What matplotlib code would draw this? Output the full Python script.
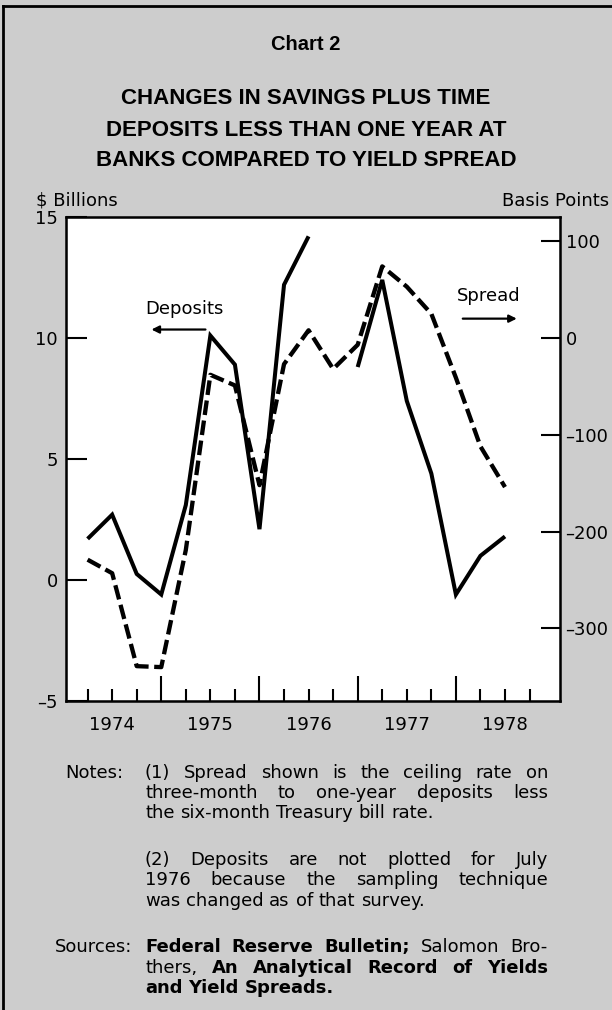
import matplotlib
matplotlib.use("Agg")
import matplotlib.pyplot as plt
from matplotlib.lines import Line2D
import numpy as np

# ---------------- data ----------------
years = ["1974", "1975", "1976", "1977", "1978"]
year_starts = [1975.0, 1976.0, 1977.0, 1978.0]
quarter_ticks = [1974.25, 1974.5, 1974.75, 1975.25, 1975.5, 1975.75,
                 1976.25, 1976.5, 1976.75, 1977.25, 1977.5, 1977.75,
                 1978.25, 1978.5, 1978.75]
dates = [1974.25, 1974.5, 1974.75, 1975.0, 1975.25, 1975.5, 1975.75,
         1976.0, 1976.25, 1976.5, 1976.75, 1977.0, 1977.25, 1977.5,
         1977.75, 1978.0, 1978.25, 1978.5]
# $ billions (July 1976 not plotted)
deposits = [1.7, 2.7, 0.25, -0.6, 3.1, 10.1, 8.9, 2.1, 12.2, 14.2, np.nan,
            8.8, 12.4, 7.4, 4.4, -0.6, 1.0, 1.8]
# basis points
spread = [-229, -243, -339, -340, -219, -38, -49, -152, -27, 8, -32, -7,
          74, 53, 25, -41, -112, -154]
left_ticks = [-5, 0, 5, 10, 15]
left_labels = ["\u20135", "0", "5", "10", "15"]
right_ticks = [-300, -200, -100, 0, 100]
right_labels = ["\u2013300", "\u2013200", "\u2013100", "0", "100"]

W, H = 612, 1010
BG = "#cdcdcd"
plt.rcParams["font.family"] = ["DejaVu Sans"]
plt.rcParams["font.size"] = 13

fig = plt.figure(figsize=(W / 100, H / 100), dpi=100, facecolor=BG)


def fx(px):
    return px / W


def fy(py):
    return 1 - py / H


# plot box
L, R, T, B = 66, 560, 217, 701
ax = fig.add_axes([fx(L), fy(B), fx(R - L), (B - T) / H])
ax.set_facecolor("white")
ax.set_xlim(1974.03, 1979.06)
ax.set_ylim(-5, 15)
for s in ax.spines.values():
    s.set_linewidth(1.8)

ax.plot(dates, deposits, color="black", lw=2.9, solid_joinstyle="miter",
        solid_capstyle="butt")

ax2 = ax.twinx()
ax2.set_ylim(-375, 125)
ax2.plot(dates, spread, color="black", lw=3.1, linestyle=(0, (3.4, 1.3)),
         dash_capstyle="butt")

# y ticks
ax.set_yticks(left_ticks, labels=left_labels)
ax.tick_params(axis="y", direction="in", length=15, width=1.5, pad=6,
               labelsize=13)
ax2.set_yticks(right_ticks, labels=right_labels)
ax2.tick_params(axis="y", direction="in", length=14, width=1.5, pad=4,
                labelsize=13)

# x ticks
ax.set_xticks(year_starts, labels=[""] * len(year_starts))
ax.set_xticks(quarter_ticks,
              labels=[years[int(q) - 1974] if abs(q % 1 - 0.5) < 1e-6 else ""
                      for q in quarter_ticks], minor=True)
ax.tick_params(axis="x", which="major", direction="in", length=18, width=1.5)
ax.tick_params(axis="x", which="minor", direction="in", length=9, width=1.5,
               pad=11, labelsize=13)

# annotations
ax.text(1975.24, 11.2, "Deposits", ha="center", va="center", fontsize=13)
ax.annotate("", xy=(1974.9, 10.35), xytext=(1975.45, 10.35),
            arrowprops=dict(arrowstyle="-|>", lw=1.6, color="black",
                            mutation_scale=11, shrinkA=0, shrinkB=0))
ax.text(1978.33, 11.75, "Spread", ha="center", va="center", fontsize=13)
ax.annotate("", xy=(1978.62, 10.8), xytext=(1978.07, 10.8),
            arrowprops=dict(arrowstyle="-|>", lw=1.6, color="black",
                            mutation_scale=11, shrinkA=0, shrinkB=0))

# axis unit labels
fig.text(fx(36), fy(200), "$ Billions", ha="left", va="center", fontsize=13)
fig.text(fx(609), fy(201), "Basis Points", ha="right", va="center",
         fontsize=13)

# titles
fig.text(fx(306), fy(45), "Chart 2", ha="center", va="center", fontsize=14.5,
         fontweight="bold", family="Liberation Sans")
title_lines = ["CHANGES IN SAVINGS PLUS TIME",
               "DEPOSITS LESS THAN ONE YEAR AT",
               "BANKS COMPARED TO YIELD SPREAD"]
for i, line in enumerate(title_lines):
    fig.text(fx(306), fy(99 + 31 * i), line, ha="center", va="center",
             fontsize=16, fontweight="bold", family="Liberation Sans")

# page border
fig.add_artist(Line2D([fx(3), fx(3)], [0, fy(6)], color="black", lw=2))
fig.add_artist(Line2D([fx(3), fx(611)], [fy(6), fy(6)], color="black", lw=2))

# ---- notes with justification ----
renderer = fig.canvas.get_renderer()
NS = 13


def place_line(words, y_center, x0, x1, justify=True):
    objs, widths = [], []
    for w, wt in words:
        t = fig.text(0, 0, w, fontsize=NS, fontweight=wt, va="baseline",
                     ha="left")
        widths.append(t.get_window_extent(renderer).width)
        objs.append(t)
    if justify and len(words) > 1:
        gap = (x1 - x0 - sum(widths)) / (len(words) - 1)
    else:
        gap = 0.318 * NS * 100 / 72
    x = x0
    yb = y_center + 6
    for t, wd in zip(objs, widths):
        t.set_position((fx(x), fy(yb)))
        x += wd + gap


def words_of(s, wt="normal"):
    return [(w, wt) for w in s.split()]


X0, X1 = 145, 548
fig.text(fx(65), fy(778), "Notes:", fontsize=NS, va="baseline", ha="left")
place_line(words_of("(1) Spread shown is the ceiling rate on"), 772, X0, X1)
place_line(words_of("three-month to one-year deposits less"), 792, X0, X1)
place_line(words_of("the six-month Treasury bill rate."), 812, X0, X1,
           justify=False)
place_line(words_of("(2) Deposits are not plotted for July"), 859, X0, X1)
place_line(words_of("1976 because the sampling technique"), 879, X0, X1)
place_line(words_of("was changed as of that survey."), 900, X0, X1,
           justify=False)
fig.text(fx(55), fy(952), "Sources:", fontsize=NS, va="baseline", ha="left")
place_line(words_of("Federal Reserve Bulletin;", "bold")
           + words_of("Salomon Bro-"), 946, X0, X1)
place_line(words_of("thers,") + words_of("An Analytical Record of Yields",
                                          "bold"), 967, X0, X1)
place_line(words_of("and Yield Spreads.", "bold"), 987, X0, X1,
           justify=False)

fig.savefig("out.png", dpi=100, facecolor=BG)
